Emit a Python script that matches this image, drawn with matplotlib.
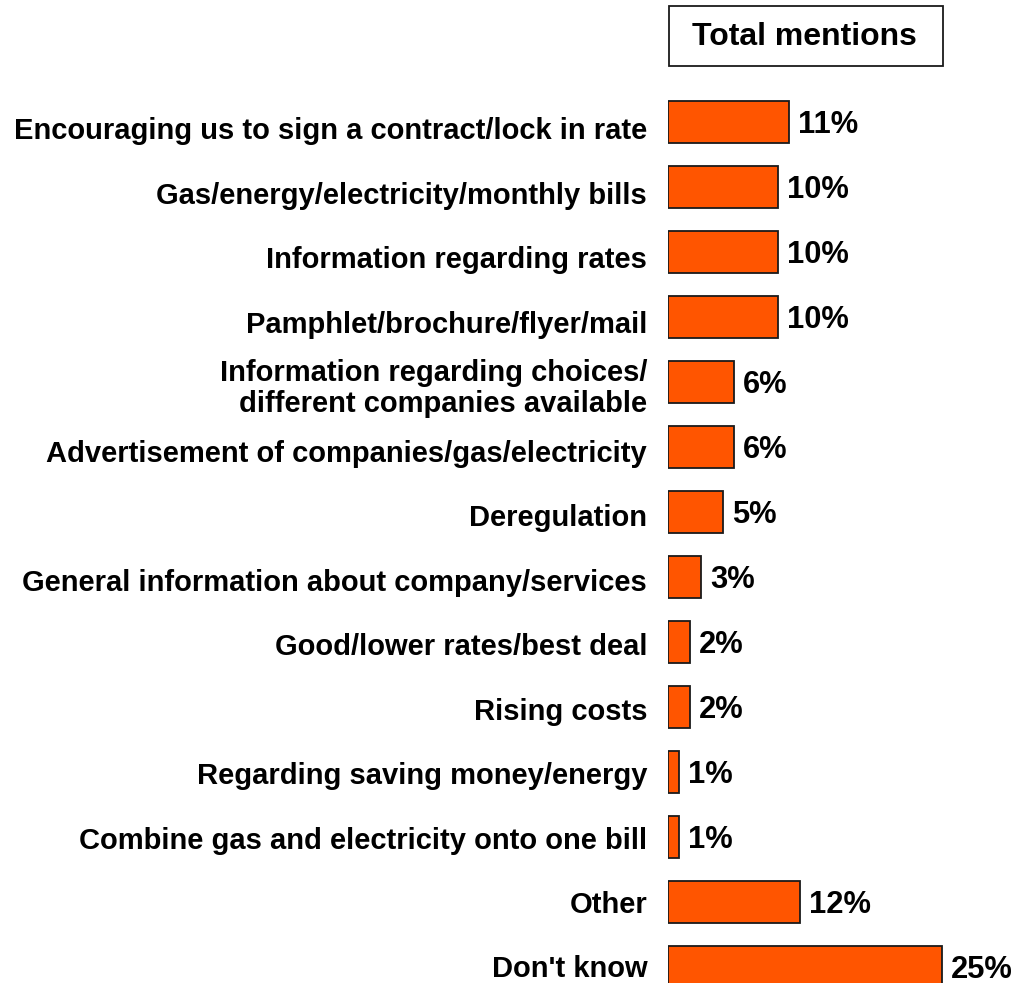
import matplotlib.pyplot as plt
from matplotlib.patches import Rectangle
from matplotlib.transforms import offset_copy

plt.rcParams['font.family'] = ['Liberation Sans', 'DejaVu Sans']

categories = [
    "Encouraging us to sign a contract/lock in rate",
    "Gas/energy/electricity/monthly bills",
    "Information regarding rates",
    "Pamphlet/brochure/flyer/mail",
    "Information regarding choices/\ndifferent companies available",
    "Advertisement of companies/gas/electricity",
    "Deregulation",
    "General information about company/services",
    "Good/lower rates/best deal",
    "Rising costs",
    "Regarding saving money/energy",
    "Combine gas and electricity onto one bill",
    "Other",
    "Don't know",
]
values = [11, 10, 10, 10, 6, 6, 5, 3, 2, 2, 1, 1, 12, 25]

W, H = 1019, 983
fig = plt.figure(figsize=(W / 100, H / 100), dpi=100)

# axes starts where the bars start; scale ~11 px per percentage point
x0 = 668
ax = fig.add_axes([x0 / W, 0, (W - x0) / W, 1])
px_per_pct = 10.96
ax.set_xlim(0, (W - x0) / px_per_pct)
top_c, pitch = 122, 65
ax.set_ylim((H - top_c) / pitch, -top_c / pitch)
ax.axis('off')

pos = list(range(len(categories)))
ax.barh(pos, values, height=0.66, color='#FF5500', edgecolor='#1a1a1a',
        linewidth=1.3)

val_fs, lab_fs = 22.2, 21
val_tr = offset_copy(ax.transData, fig, x=6.5, y=-0.358 * val_fs, units='points')
lab_tr = offset_copy(ax.transData, fig, x=-15, y=-0.358 * lab_fs, units='points')
ml_tr = offset_copy(ax.transData, fig, x=-15, y=-1.5, units='points')

# category labels sit on a slightly tighter pitch than the bars
lab_pitch = 64.46 / pitch
lab_start = 7 / pitch

for y, v, lab in zip(pos, values, categories):
    ax.text(v, y, f"{v}%", ha='left', va='baseline', fontsize=val_fs,
            fontweight='bold', transform=val_tr)
    ly = lab_start + y * lab_pitch
    if "\n" in lab:
        ax.text(0, ly, lab, ha='right', va='center', fontsize=lab_fs,
                fontweight='bold', linespacing=1.14, clip_on=False,
                transform=ml_tr)
    else:
        ax.text(0, ly, lab, ha='right', va='baseline', fontsize=lab_fs,
                fontweight='bold', clip_on=False, transform=lab_tr)

# header box
fig.patches.append(Rectangle((669 / W, 1 - 66 / H), 274 / W, 60 / H,
                             transform=fig.transFigure, facecolor='white',
                             edgecolor='#1a1a1a', linewidth=1.3))
fig.text(804 / W, 1 - 37 / H, "Total mentions", ha='center', va='center',
         fontsize=23, fontweight='bold')

fig.savefig("out.png", dpi=100)
